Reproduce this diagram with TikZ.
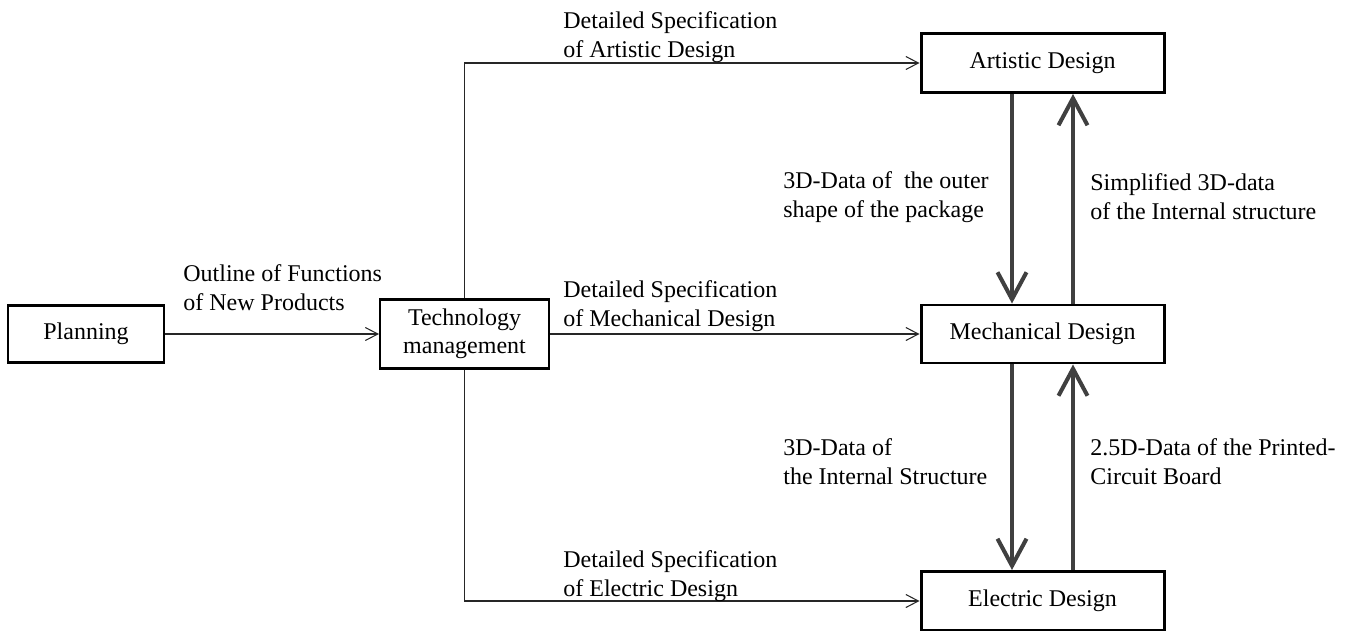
\documentclass[tikz,border=0pt]{standalone}
\usepackage{fontspec}
\setmainfont{Liberation Serif}
\usetikzlibrary{arrows.meta}
\tikzset{
    box/.style={draw, line width=1.15pt, inner sep=0pt, align=center, minimum width=3.12cm, minimum height=1.14cm},
    designbox/.style={box, line width=1.7pt, minimum width=4.86cm, minimum height=1.18cm},
    lbl/.style={anchor=west, align=left, inner sep=0pt},
    flow/.style={-{Straight Barb[length=2.5mm, width=2.6mm]}, line width=0.6pt, black!85},
    data/.style={-{Straight Barb[length=5.4mm, width=5.8mm]}, line width=2.3pt, black!75}
}
\begin{document}
\begin{tikzpicture}[font=\fontsize{13.66pt}{16.5pt}\selectfont]
                \useasboundingbox (0, 0) rectangle (26.98, 12.6);

                \node[box] (plan) at (1.72, 5.92) {Planning};
                \node[box, minimum width=3.38cm, minimum height=1.38cm] (tech) at (9.29, 5.92) {Technology\\[-0.5pt]management};
                \node[designbox] (art) at (20.85, 11.34) {Artistic Design};
                \node[designbox, minimum height=1.16cm] (mech) at (20.85, 5.92) {Mechanical Design};
                \node[designbox] (elec) at (20.85, 0.58) {Electric Design};

                \draw[flow] (plan) -- (tech);
                \draw[flow] (tech.north) |- (art.west);
                \draw[flow] (tech) -- (mech);
                \draw[flow] (tech.south) |- (elec.west);

                \draw[data] ([xshift=-0.61cm]art.south) -- ([xshift=-0.61cm]mech.north);
                \draw[data] ([xshift=0.61cm]mech.north) -- ([xshift=0.61cm]art.south);
                \draw[data] ([xshift=-0.61cm]mech.south) -- ([xshift=-0.61cm]elec.north);
                \draw[data] ([xshift=0.61cm]elec.north) -- ([xshift=0.61cm]mech.south);

                \node[lbl] (outline) at (3.66, 6.85) {Outline of Functions\\of New Products};
                \node[lbl] (specart) at (11.26, 11.86) {Detailed Specification\\of Artistic Design};
                \node[lbl] (specmech) at (11.26, 6.48) {Detailed Specification\\of Mechanical Design};
                \node[lbl] (specelec) at (11.26, 1.07) {Detailed Specification\\of Electric Design};
                \node[lbl] (outer) at (15.66, 8.66) {3D-Data of\ \ the outer\\shape of the package};
                \node[lbl] (simple) at (21.8, 8.66) {Simplified 3D-data\\of the Internal structure};
                \node[lbl] (inner) at (15.66, 3.36) {3D-Data of\\the Internal Structure};
                \node[lbl] (board) at (21.8, 3.36) {2.5D-Data of the Printed-\\Circuit Board};
            \end{tikzpicture}
\end{document}
